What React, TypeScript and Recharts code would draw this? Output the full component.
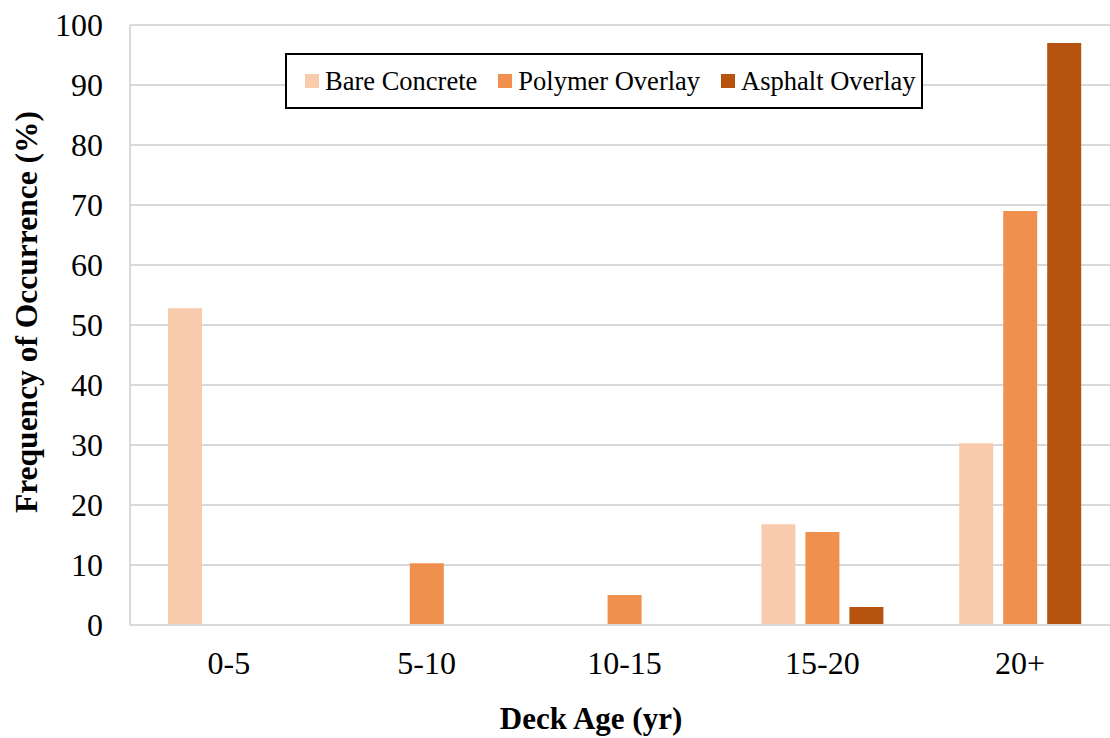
import { Bar, BarChart, CartesianGrid, Label, Legend, XAxis, YAxis } from "recharts";

document.body.style.margin = "0";
document.body.style.overflow = "hidden";

const FONT = '"Times New Roman", "Liberation Serif", serif';

const ageGroups = ["0-5", "5-10", "10-15", "15-20", "20+"];
const bareConcrete = [52.8, 0, 0, 16.8, 30.3];
const polymerOverlay = [0, 10.3, 5.0, 15.5, 69.0];
const asphaltOverlay = [0, 0, 0, 3.0, 97.0];
const yTicks = [0, 10, 20, 30, 40, 50, 60, 70, 80, 90, 100];

const seriesNames = ["Bare Concrete", "Polymer Overlay", "Asphalt Overlay"];
const seriesKeys = ["bare", "polymer", "asphalt"];
const seriesColors = ["#f8cbad", "#ef904e", "#b5530f"];

const data = ageGroups.map((age, i) => ({
  age,
  bare: bareConcrete[i],
  polymer: polymerOverlay[i],
  asphalt: asphaltOverlay[i]
}));

const renderLegend = () => (
  <div
    style={{
      boxSizing: "border-box",
      width: 638,
      height: 56,
      border: "2px solid #000",
      background: "#fff",
      display: "flex",
      alignItems: "center",
      paddingLeft: 18,
      fontFamily: FONT,
      fontSize: 26.5,
      color: "#000",
      whiteSpace: "nowrap"
    }}
  >
    {seriesNames.map((name, i) => (
      <div
        key={`legend-${i}`}
        style={{ display: "flex", alignItems: "center", marginRight: 21, flexShrink: 0 }}
      >
        <span
          style={{
            display: "inline-block",
            width: 14,
            height: 14,
            background: seriesColors[i],
            marginRight: 6
          }}
        />
        <span>{name}</span>
      </div>
    ))}
  </div>
);

export default function App() {
  return (
    <div style={{ width: 1110, height: 738, background: "#fff", overflow: "hidden" }}>
      <BarChart
        width={1110}
        height={738}
        data={data}
        margin={{ top: 25, right: -9, bottom: 0, left: 0 }}
        barSize={34}
        barGap={10}
      >
        <CartesianGrid vertical={false} stroke="#d9d9d9" strokeWidth={2} />
        <XAxis
          dataKey="age"
          height={113}
          tickLine={false}
          tickSize={0}
          tickMargin={26}
          axisLine={{ stroke: "#d9d9d9", strokeWidth: 2 }}
          tick={{ fill: "#000", fontSize: 32, fontFamily: FONT }}
        >
          <Label
            content={() => (
              <text
                x={591}
                y={729}
                textAnchor="middle"
                fontFamily={FONT}
                fontWeight="bold"
                fontSize={31}
                fill="#000"
              >
                Deck Age (yr)
              </text>
            )}
          />
        </XAxis>
        <YAxis
          width={130}
          domain={[0, 100]}
          ticks={yTicks}
          interval={0}
          tickLine={false}
          tickSize={0}
          tickMargin={27}
          axisLine={{ stroke: "#d9d9d9", strokeWidth: 2 }}
          tick={{ fill: "#000", fontSize: 32, fontFamily: FONT }}
        >
          <Label
            content={(p: any) => {
              const vb = p.viewBox || { x: 0, y: 25, height: 600 };
              const cx = vb.x + 37;
              const cy = vb.y + vb.height / 2 - 13;
              return (
                <text
                  x={cx}
                  y={cy}
                  transform={`rotate(-90, ${cx}, ${cy})`}
                  textAnchor="middle"
                  fontFamily={FONT}
                  fontWeight="bold"
                  fontSize={31.5}
                  fill="#000"
                >
                  Frequency of Occurrence (%)
                </text>
              );
            }}
          />
        </YAxis>
        <Legend
          verticalAlign="middle"
          align="center"
          content={renderLegend}
          wrapperStyle={{ left: 285, top: 53, width: 638, height: 56 }}
        />
        {seriesKeys.map((key, i) => (
          <Bar
            key={key}
            dataKey={key}
            name={seriesNames[i]}
            fill={seriesColors[i]}
            isAnimationActive={false}
          />
        ))}
      </BarChart>
    </div>
  );
}
